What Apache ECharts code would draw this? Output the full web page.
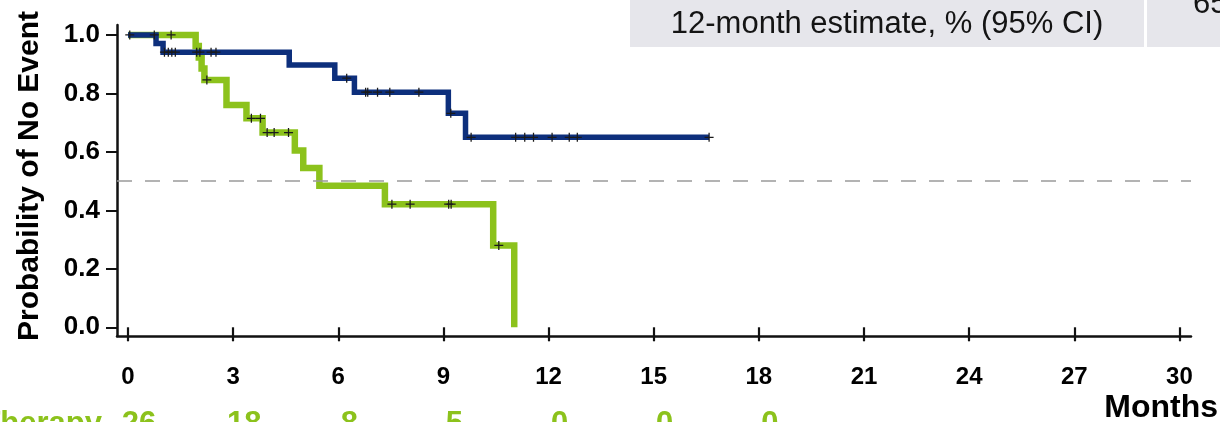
<!DOCTYPE html>
<html><head><meta charset="utf-8">
<script src="https://cdn.jsdelivr.net/npm/echarts@6/dist/echarts.min.js"></script>
<style>html,body{margin:0;padding:0;background:#fff}#c{width:1220px;height:422px}</style>
</head><body><div id="c"></div>
<script>
// ---- data ----
const blueTimes = [0, 0.80, 1.00, 4.60, 5.90, 6.46, 9.14, 9.63, 16.58];
const blueSurv  = [1.0, 0.971, 0.941, 0.897, 0.852, 0.804, 0.732, 0.650, 0.650];
const blueCensor = [0.05, 0.75, 1.04, 1.15, 1.25, 1.35, 1.96, 2.05, 2.37, 2.51, 6.24, 6.78, 6.84, 7.12, 7.47, 8.30, 9.21, 9.79, 11.06, 11.32, 11.57, 12.10, 12.59, 12.82, 16.58];

const greenTimes = [0, 1.93, 2.02, 2.10, 2.18, 2.81, 3.38, 3.84, 4.76, 5.00, 5.46, 7.33, 10.42, 11.02];
const greenSurv  = [1.0, 0.962, 0.923, 0.885, 0.846, 0.760, 0.715, 0.666, 0.605, 0.545, 0.484, 0.421, 0.280, 0.0];
const greenCensor = [1.23, 2.25, 3.52, 3.78, 3.97, 4.17, 4.58, 7.53, 8.05, 9.15, 9.22, 10.58];

const xTicks = [0, 3, 6, 9, 12, 15, 18, 21, 24, 27, 30];
const yTicks = [0, 0.2, 0.4, 0.6, 0.8, 1.0];
const medianLine = 0.5;

const riskLabel = 'Therapy';
const riskMonths = [0, 3, 6, 9, 12, 15, 18];
const riskCounts = [26, 18, 8, 5, 0, 0, 0];

const tableHeader = '12-month estimate, % (95% CI)';
const tableValue = '65';

// ---- helpers ----
function survAt(times, surv, t) {
  let s = surv[0];
  for (let i = 0; i < times.length; i++) if (times[i] <= t) s = surv[i];
  return s;
}
const BLUE = '#0d2f7c', GREEN = '#8cc21c', FONT = '"Liberation Sans", Arial, sans-serif';
const plus = 'path://M4.3,0H5.7V4.3H10V5.7H5.7V10H4.3V5.7H0V4.3H4.3Z';

const chart = echarts.init(document.getElementById('c'), null, {renderer: 'canvas'});
const X_MIN = -0.314, X_MAX = 30.33, Y_MIN = -0.0298, Y_MAX = 1.034;

const option = {
  animation: false,
  backgroundColor: '#ffffff',
  grid: {left: 117, top: 25, right: 29, bottom: 86, containLabel: false},
  xAxis: [{
    type: 'value', min: X_MIN, max: X_MAX,
    axisLine: {show: true, onZero: false, lineStyle: {color: '#111', width: 2.5}},
    axisTick: {show: false}, axisLabel: {show: false}, splitLine: {show: false}
  }, {
    type: 'value', min: X_MIN, max: X_MAX, position: 'bottom', offset: 3,
    axisLine: {show: false},
    axisTick: {show: true, length: 14, customValues: xTicks, lineStyle: {color: '#111', width: 2.2}},
    axisLabel: {show: true, customValues: xTicks, margin: 26, color: '#000', fontFamily: FONT, fontWeight: 'bold', fontSize: 24,
      formatter: v => String(Math.round(v))},
    splitLine: {show: false}
  }],
  yAxis: {
    type: 'value', min: Y_MIN, max: Y_MAX,
    axisLine: {show: true, onZero: false, lineStyle: {color: '#111', width: 2.5}},
    axisTick: {show: true, length: 11, customValues: yTicks, lineStyle: {color: '#111', width: 2}},
    axisLabel: {show: true, customValues: yTicks, margin: 17, color: '#000', fontFamily: FONT, fontWeight: 'bold', fontSize: 26,
      formatter: v => v.toFixed(1)},
    splitLine: {show: false}
  },
  series: [
    {
      type: 'line', name: 'green', step: 'end', showSymbol: false, z: 2,
      data: greenTimes.map((t, i) => [t, greenSurv[i]]),
      lineStyle: {color: GREEN, width: 6.5, join: 'miter', cap: 'butt'},
      markLine: {
        silent: true, symbol: 'none', label: {show: false},
        lineStyle: {color: '#9a9a9a', width: 1.5, type: [15, 13]},
        data: [{yAxis: medianLine}]
      }
    },
    {
      type: 'line', name: 'blue', step: 'end', showSymbol: false, z: 3,
      data: blueTimes.map((t, i) => [t, blueSurv[i]]),
      lineStyle: {color: BLUE, width: 5.5, join: 'miter', cap: 'butt'}
    },
    {
      type: 'scatter', z: 5, symbol: plus, symbolSize: 9,
      itemStyle: {color: '#1a1a1a', opacity: 1},
      data: blueCensor.map(t => [t, survAt(blueTimes, blueSurv, t)])
        .concat(greenCensor.map(t => [t, survAt(greenTimes, greenSurv, t)]))
    }
  ]
};
chart.setOption(option);

const graphics = [
  {type: 'rect', shape: {x: 630, y: 0, width: 514, height: 47}, style: {fill: '#e6e6eb'}},
  {type: 'rect', shape: {x: 1147, y: 0, width: 73, height: 47}, style: {fill: '#e6e6eb'}},
  {type: 'text', x: 887, y: 24, style: {text: tableHeader, font: '31px ' + FONT, fill: '#141414', align: 'center', verticalAlign: 'middle'}},
  {type: 'text', x: 1193, y: 4, style: {text: tableValue, font: '31px ' + FONT, fill: '#141414', align: 'left', verticalAlign: 'middle'}},
  {type: 'text', x: 30, y: 176, rotation: Math.PI / 2,
    style: {text: 'Probability of No Event', font: 'bold 30px ' + FONT, fill: '#000', align: 'center', verticalAlign: 'middle'}},
  {type: 'text', x: 1218, y: 408, style: {text: 'Months', font: 'bold 32px ' + FONT, fill: '#000', align: 'right', verticalAlign: 'middle'}},
  {type: 'text', x: 102, y: 424, style: {text: riskLabel, font: 'bold 31px ' + FONT, fill: GREEN, align: 'right', verticalAlign: 'middle'}}
];
riskMonths.forEach((m, i) => {
  const px = chart.convertToPixel({xAxisIndex: 0}, m);
  graphics.push({type: 'text', x: px + 11, y: 424,
    style: {text: String(riskCounts[i]), font: 'bold 31px ' + FONT, fill: GREEN, align: 'center', verticalAlign: 'middle'}});
});
chart.setOption({graphic: graphics});
</script>
</body></html>
